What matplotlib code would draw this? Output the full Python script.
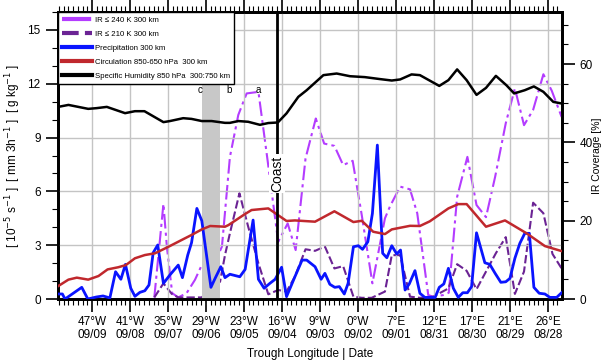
import matplotlib
matplotlib.use("Agg")
import matplotlib.pyplot as plt
from matplotlib.ticker import MultipleLocator, FixedLocator
import numpy as np

plt.rcParams['font.family'] = ['Liberation Sans', 'DejaVu Sans']

# x is in days, tick k = k-th date label (reversed time, west -> east)
tick_lon = ["47°W", "41°W", "35°W", "29°W", "23°W", "16°W", "9°W", "0°W",
            "7°E", "12°E", "17°E", "21°E", "26°E"]
tick_date = ["09/09", "09/08", "09/07", "09/06", "09/05", "09/04", "09/03",
             "09/02", "09/01", "08/31", "08/30", "08/29", "08/28"]

# specific humidity 850 hPa [g/kg]
q_x = [-0.89, -0.62, -0.10, 0.12, 0.39, 0.87, 1.13, 1.38, 1.88, 2.05, 2.40, 2.62,
       2.89, 3.15, 3.50, 3.63, 3.85, 4.11, 4.42, 4.64, 4.89, 5.12, 5.43, 5.65,
       6.09, 6.44, 6.79, 7.18, 7.58, 7.89, 8.11, 8.41, 8.63, 9.14, 9.38, 9.61,
       9.86, 10.12, 10.37, 10.63, 10.91, 11.11, 11.39, 11.63, 11.88, 12.14, 12.36]
q_y = [10.71, 10.82, 10.60, 10.64, 10.71, 10.36, 10.47, 10.47, 9.86, 9.92, 10.08, 10.04,
       9.92, 9.92, 9.82, 9.82, 9.92, 9.88, 9.71, 9.81, 9.84, 10.35, 11.27, 11.64,
       12.48, 12.57, 12.42, 12.37, 12.26, 12.18, 12.24, 12.52, 12.48, 11.88, 12.20, 12.80,
       12.20, 11.38, 11.77, 12.44, 11.91, 11.46, 11.64, 11.85, 11.55, 10.99, 10.90]

# circulation 850-650 hPa [1e-5 s-1]
circ_x = [-0.89, -0.62, -0.40, -0.10, 0.17, 0.41, 0.69, 0.89, 1.13, 1.39, 1.66, 2.01,
          2.36, 2.62, 2.89, 3.11, 3.50, 3.59, 4.03, 4.20, 4.64, 5.12, 5.34, 5.87,
          6.38, 6.88, 7.10, 7.40, 7.71, 7.89, 8.37, 8.63, 8.89, 9.38, 9.64, 9.86,
          10.37, 10.87, 11.44, 11.92, 12.36]
circ_y = [0.72, 1.08, 1.19, 1.08, 1.28, 1.65, 1.77, 1.89, 2.27, 2.45, 2.55, 2.91,
          3.29, 3.57, 3.88, 4.07, 4.03, 4.12, 4.74, 4.96, 5.05, 4.35, 4.38, 4.31,
          4.89, 4.29, 4.36, 3.75, 3.62, 3.88, 4.08, 4.07, 4.33, 5.05, 5.29, 5.29,
          4.03, 4.38, 3.66, 2.95, 2.67]

# precipitation [mm/3h]
pr_x = [-0.89, -0.78, -0.71, -0.27, -0.11, 0.11, 0.29, 0.47, 0.62, 0.76, 0.88, 1.02,
        1.13, 1.26, 1.39, 1.50, 1.61, 1.73, 1.88, 2.05, 2.27, 2.38, 2.52, 2.62,
        2.76, 2.89, 3.13, 3.24, 3.39, 3.50, 3.63, 3.89, 4.03, 4.24, 4.38, 4.53,
        4.68, 4.82, 4.99, 5.12, 5.34, 5.53, 5.65, 5.87, 6.03, 6.13, 6.26, 6.39,
        6.51, 6.64, 6.74, 6.88, 7.01, 7.12, 7.26, 7.38, 7.51, 7.65, 7.76, 7.89,
        8.02, 8.12, 8.24, 8.35, 8.50, 8.63, 8.76, 9.03, 9.14, 9.26, 9.38, 9.51,
        9.64, 9.76, 9.88, 9.99, 10.12, 10.34, 10.47, 10.61, 10.76, 10.89, 11.00, 11.13,
        11.26, 11.39, 11.51, 11.63, 11.77, 11.92, 12.05, 12.23, 12.36]
pr_y = [0.28, 0.28, 0.0, 0.65, 0.0, 0.11, 0.17, 0.06, 1.52, 1.10, 1.93, 0.60,
        0.15, 0.37, 0.46, 0.78, 2.58, 3.01, 0.87, 1.34, 1.89, 1.19, 2.45, 3.14,
        5.05, 4.36, 0.65, 1.15, 1.80, 1.19, 1.38, 1.24, 1.65, 4.40, 1.10, 0.60,
        0.87, 1.10, 1.77, 0.13, 1.24, 2.17, 2.17, 1.80, 1.10, 1.43, 0.82, 0.65,
        0.69, 0.28, 0.87, 2.91, 2.97, 2.77, 3.19, 4.77, 8.58, 2.55, 2.30, 2.97,
        2.51, 2.73, 0.50, 0.84, 1.58, 0.32, 0.09, 0.09, 0.65, 0.84, 1.71, 0.60,
        0.09, 0.35, 0.35, 0.69, 3.69, 2.02, 1.93, 1.43, 0.93, 0.96, 1.15, 2.27,
        3.10, 3.66, 3.66, 0.65, 0.32, 0.28, 0.09, 0.09, 0.35]

# IR coverage <= 240 K [%]
ir240_x = [1.64, 1.88, 1.97, 2.11, 2.27, 2.49, 2.71, 2.89, 3.11, 3.32, 3.42, 3.63,
           3.85, 4.07, 4.38, 4.62, 4.90, 5.15, 5.36, 5.62, 5.89, 6.11, 6.38, 6.61,
           6.86, 7.10, 7.38, 7.71, 7.84, 8.11, 8.37, 8.56, 8.85, 8.98, 9.24, 9.39,
           9.61, 9.88, 10.12, 10.37, 10.61, 10.89, 11.13, 11.37, 11.61, 11.88, 12.10, 12.36]
ir240_y = [0.4, 24.3, 13.4, 1.5, 0.4, 1.5, 4.9, 8.7, 8.1, 11.2, 13.4, 36.3,
           47.0, 52.5, 52.9, 35.5, 14.6, 19.3, 12.5, 35.9, 46.1, 39.7, 39.1, 34.2,
           35.3, 21.4, 4.0, 20.6, 23.6, 28.7, 28.0, 21.9, 1.0, 0.6, 1.0, 1.6,
           26.1, 36.3, 24.0, 20.9, 31.2, 44.9, 53.8, 44.4, 48.3, 57.4, 53.2, 46.5]

# IR coverage <= 210 K [%]
ir210_x = [1.64, 1.88, 2.10, 2.27, 2.89, 3.15, 3.37, 3.50, 3.63, 3.88, 4.11, 4.38,
           4.64, 4.90, 5.12, 5.34, 5.62, 5.87, 6.13, 6.38, 6.61, 6.88, 7.10, 7.36,
           7.71, 7.89, 8.11, 8.37, 8.63, 8.98, 9.38, 9.61, 9.86, 10.12, 10.63, 10.89,
           11.13, 11.37, 11.61, 11.88, 12.12, 12.36]
ir210_y = [0.4, 4.0, 1.3, 0.4, 0.4, 3.1, 4.4, 11.2, 16.8, 27.0, 18.5, 9.1,
           1.2, 2.3, 1.9, 5.7, 12.7, 12.3, 13.4, 7.8, 8.4, 0.6, 0.3, 0.3,
           1.9, 11.2, 11.2, 0.6, 0.3, 0.6, 2.7, 8.9, 7.2, 2.5, 11.7, 15.8,
           1.3, 7.0, 24.6, 21.9, 11.5, 7.8]

coast_x = 4.87
shade = (2.89, 3.37)
stage_x = [2.85, 3.61, 4.37]
stage_lab = ["c", "b", "a"]

fig = plt.figure(figsize=(6.03, 3.61), dpi=100)
ax = fig.add_axes([58/603, 62/361, 504/603, 287/361])
ax2 = ax.twinx()

ax.set_xlim(-0.895, 12.37)
ax.set_ylim(0, 16)
ax2.set_ylim(0, 73.3)

ax.axvspan(shade[0], shade[1], color='#c8c8c8', zorder=1, lw=0)
ax.grid(True, color='#c4c4c4', lw=1, zorder=0)
ax.set_axisbelow(True)

l1, = ax2.plot(ir240_x, ir240_y, color='#b43cff', lw=1.5, dashes=(7, 2, 1.5, 2),
               label='IR ≤ 240 K 300 km', zorder=3)
l2, = ax2.plot(ir210_x, ir210_y, color='#6b2394', lw=1.5, dashes=(4, 1.5),
               label='IR ≤ 210 K 300 km', zorder=3)
l3, = ax.plot(pr_x, pr_y, color='#0a14ff', lw=2, label='Precipitation 300 km', zorder=4)
l4, = ax.plot(circ_x, circ_y, color='#c0282d', lw=1.8,
              label='Circulation 850-650 hPa  300 km', zorder=4)
l5, = ax.plot(q_x, q_y, color='black', lw=1.8,
              label='Specific Humidity 850 hPa  300:750 km', zorder=4)

ax.set_zorder(ax2.get_zorder() + 1)
ax.patch.set_visible(False)

ax.axvline(coast_x, color='black', lw=2, zorder=5)
ax.text(coast_x, 7.0, "Coast", rotation=90, ha='center', va='center', fontsize=10,
        bbox=dict(facecolor='white', edgecolor='none', pad=1), zorder=6)
for sx, sl in zip(stage_x, stage_lab):
    ax.text(sx, 11.65, sl, ha='center', va='center', fontsize=7, zorder=6)

leg = ax.legend(handles=[l1, l2, l3, l4, l5], loc='upper left', fontsize=5.6,
                frameon=True, fancybox=False, edgecolor='black', framealpha=1,
                borderaxespad=0, handlelength=3.8, labelspacing=0.85,
                borderpad=0.55, handletextpad=0.35)
leg.get_frame().set_linewidth(1)
leg.set_zorder(10)
for h in leg.get_lines():
    h.set_linewidth(3)

# x ticks
ax.xaxis.set_major_locator(FixedLocator(np.arange(len(tick_lon))))
ax.xaxis.set_minor_locator(MultipleLocator(0.125))
ax.set_xticklabels([a + "\n" + b for a, b in zip(tick_lon, tick_date)], fontsize=8.5)
ax.tick_params(axis='x', which='both', top=True, direction='out')
ax.tick_params(axis='x', which='major', length=9, width=1.2, pad=3)
ax.tick_params(axis='x', which='minor', length=4, width=0.8)
ax.set_xlabel("Trough Longitude | Date", fontsize=8.5, labelpad=5)

ax.yaxis.set_major_locator(MultipleLocator(3))
ax.yaxis.set_minor_locator(MultipleLocator(1))
ax.tick_params(axis='y', which='major', labelsize=8.5, length=9, width=1.2, direction='out')
ax.tick_params(axis='y', which='minor', length=4, width=0.8, direction='out')
ax.set_ylabel("[ 10$^{-5}$ s$^{-1}$ ]  [ mm 3h$^{-1}$ ]  [ g kg$^{-1}$ ]", fontsize=8.5, labelpad=3)

ax2.yaxis.set_major_locator(MultipleLocator(20))
ax2.yaxis.set_minor_locator(MultipleLocator(5))
ax2.tick_params(axis='y', which='major', labelsize=8.5, length=9, width=1.2, direction='out')
ax2.tick_params(axis='y', which='minor', length=4, width=0.8, direction='out')
ax2.set_ylabel("IR Coverage [%]", fontsize=7.5)
ax2.yaxis.set_label_coords(1.059, 0.5)

for a in (ax, ax2):
    for s in a.spines.values():
        s.set_linewidth(2)

fig.savefig("out.png", dpi=100)
